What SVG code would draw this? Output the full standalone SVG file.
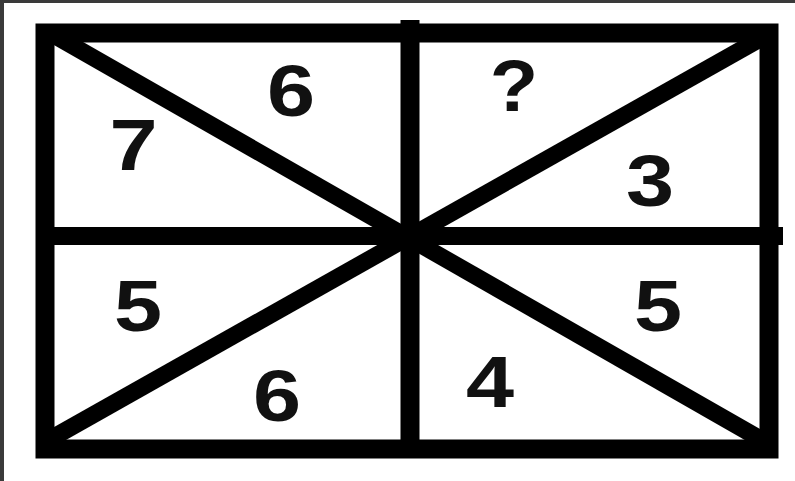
<svg xmlns="http://www.w3.org/2000/svg" width="795" height="481" viewBox="0 0 795 481">
<style>
.ln{stroke:#000;fill:none;stroke-linecap:butt}
.num{font-family:"Liberation Sans",Arial,sans-serif;font-weight:bold;font-size:72px;fill:#111;text-anchor:middle}
</style>
<defs>
<clipPath id="box"><rect x="36" y="24" width="743" height="434"/></clipPath>
</defs>
<rect x="0" y="0" width="795" height="481" fill="#fff"/>
<rect x="0" y="0" width="795" height="3" fill="#3a3a3a"/>
<rect x="0" y="0" width="4" height="481" fill="#3a3a3a"/>
<g id="grid">
<g clip-path="url(#box)">
<line class="ln" x1="45" y1="30" x2="769" y2="444" stroke-width="17"/>
<line class="ln" x1="45" y1="442" x2="769" y2="34" stroke-width="17"/>
</g>
<line class="ln" x1="410" y1="20" x2="410" y2="458" stroke-width="19"/>
<line class="ln" x1="45" y1="236" x2="783" y2="236" stroke-width="18"/>
<rect class="ln" x="45" y="33" width="724" height="416" stroke-width="19"/>
</g>
<g id="numbers">
<text class="num" transform="translate(133.5,170) scale(1.2,1)">7</text>
<text class="num" transform="translate(291,116) scale(1.2,1)">6</text>
<text class="num" transform="translate(514,111) scale(1.1,1)">?</text>
<text class="num" transform="translate(650,206) scale(1.2,1)">3</text>
<text class="num" transform="translate(138,331) scale(1.2,1)">5</text>
<text class="num" transform="translate(277,421) scale(1.2,1)">6</text>
<text class="num" transform="translate(658,331) scale(1.2,1)">5</text>
<text class="num" transform="translate(490,407) scale(1.2,1)">4</text>
</g>
</svg>
